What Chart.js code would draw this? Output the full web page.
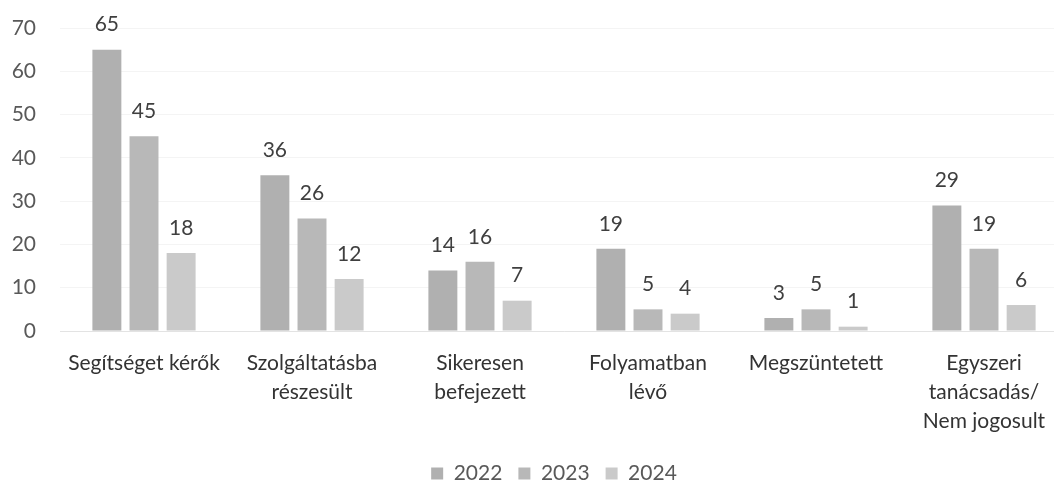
<!DOCTYPE html>
<html>
<head>
<meta charset="utf-8">
<script src="https://cdn.jsdelivr.net/npm/chart.js@4"></script>
<style>
  html, body { margin: 0; padding: 0; background: #fff; overflow: hidden; }
  #wrap { width: 1068px; height: 494px; }
</style>
</head>
<body>
<div id="wrap"><canvas id="chart"></canvas></div>
<script>
// categories and values
const categories = [
    "Segítséget kérők",
    ["Szolgáltatásba", "részesült"],
    ["Sikeresen", "befejezett"],
    ["Folyamatban", "lévő"],
    "Megszüntetett",
    ["Egyszeri", "tanácsadás/", "Nem jogosult"]
];
const years = ["2022", "2023", "2024"];
const values2022 = [65, 36, 14, 19, 3, 29];
const values2023 = [45, 26, 16, 5, 5, 19];
const values2024 = [18, 12, 7, 4, 1, 6];
const yTicks = [0, 10, 20, 30, 40, 50, 60, 70];

const colors = ["#b0b0b0", "#b8b8b8", "#cacaca"];
const fontFamily = "Lato, 'Open Sans', sans-serif";

// draw the value above every bar
const valueLabels = {
    id: "valueLabels",
    afterDatasetsDraw(chart) {
        const ctx = chart.ctx;
        ctx.save();
        ctx.font = "21px " + fontFamily;
        ctx.fillStyle = "#3f3f3f";
        ctx.textAlign = "center";
        ctx.textBaseline = "middle";
        chart.data.datasets.forEach((ds, i) => {
            const meta = chart.getDatasetMeta(i);
            meta.data.forEach((bar, j) => {
                ctx.fillText(ds.data[j], bar.x, bar.y - 25);
            });
        });
        ctx.restore();
    }
};

// the legend sits a little left of the plot centre
const legendShift = {
    id: "legendShift",
    afterLayout(chart) {
        chart.legend.left -= 10;
        chart.legend.right -= 10;
    }
};

const chart = new Chart(document.getElementById("chart"), {
    type: "bar",
    data: {
        labels: categories,
        datasets: [
            { label: years[0], data: values2022, backgroundColor: colors[0] },
            { label: years[1], data: values2023, backgroundColor: colors[1] },
            { label: years[2], data: values2024, backgroundColor: colors[2] }
        ]
    },
    options: {
        responsive: true,
        maintainAspectRatio: false,
        animation: false,
        categoryPercentage: 0.663,
        barPercentage: 0.78,
        layout: { padding: { top: 28, left: 10, right: 0, bottom: 0 } },
        plugins: {
            legend: {
                position: "bottom",
                fullSize: false,
                labels: {
                    boxWidth: 12, boxHeight: 12, padding: 16,
                    color: "#595959",
                    font: { family: fontFamily, size: 21 }
                }
            },
            tooltip: { enabled: false }
        },
        scales: {
            x: {
                grid: { display: false, drawTicks: false },
                border: { display: true, color: "#e3e3e3", dash: [2, 2] },
                afterFit: (scale) => {
                    scale.height = 116;
                    scale.paddingLeft = 0;
                    scale.paddingRight = 0;
                },
                ticks: {
                    color: "#333333",
                    padding: 18,
                    maxRotation: 0,
                    autoSkip: false,
                    font: { family: fontFamily, size: 21, lineHeight: 1.38 }
                }
            },
            y: {
                min: 0, max: 70,
                afterBuildTicks: (scale) => { scale.ticks = yTicks.map(v => ({ value: v })); },
                afterFit: (scale) => {
                    scale.width = 50;
                    scale.paddingTop = 0;
                    scale.paddingBottom = 0;
                },
                grid: { color: "#f4f4f4", drawTicks: false },
                border: { display: false },
                ticks: {
                    color: "#595959",
                    padding: 24,
                    font: { family: fontFamily, size: 21 }
                }
            }
        }
    },
    plugins: [valueLabels, legendShift]
});
</script>
</body>
</html>
